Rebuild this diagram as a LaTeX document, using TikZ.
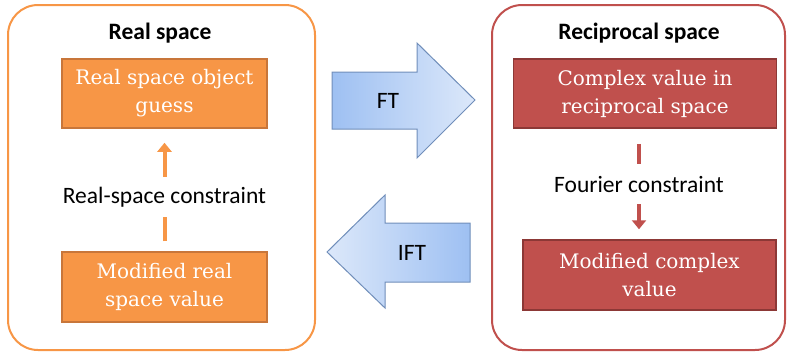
\documentclass[tikz,border=0pt]{standalone}
\usepackage{fontspec}
\setsansfont{Carlito}
\newfontfamily\boxfont{DejaVu Serif}
\usepackage{tikz}
\usetikzlibrary{positioning}
\usetikzlibrary{arrows.meta}
\definecolor{myorange}{RGB}{247,150,70}
\definecolor{myorangeline}{RGB}{200,118,58}
\definecolor{myred}{RGB}{192,80,77}
\definecolor{myredline}{RGB}{140,56,54}
\definecolor{myblue}{RGB}{158,192,242}
\definecolor{mylightblue}{RGB}{220,232,250}
\definecolor{myblueline}{RGB}{112,142,186}

\begin{document}
\begin{tikzpicture}[x=1pt,y=-1pt, font=\sffamily\fontsize{23.5}{28}\selectfont]
	\useasboundingbox (0,0) rectangle (787,354);

	% the two spaces
	\draw[myorange, line width=2pt, rounded corners=30pt] (8,5) rectangle (315,350);
	\draw[myred, line width=2pt, rounded corners=30pt] (492,5) rectangle (785,350);
	\node (rtitle) at (160,33) {\bfseries Real space};
	\node (ktitle) at (639,33) {\bfseries Reciprocal space};

	\begin{scope}[every node/.style={rectangle, draw, line width=1.5pt, text=white, align=center,
	              inner sep=0pt, font=\boxfont\fontsize{20}{28}\selectfont}]
	    \node (guess) [fill=myorange, draw=myorangeline, minimum width=205pt, minimum height=69pt]
	        at (164.5,93.5) {Real space object\\guess};
	    \node (modreal) [fill=myorange, draw=myorangeline, minimum width=205pt, minimum height=70pt]
	        at (164.5,287) {Modified real\\space value};
	    \node (cplx) [fill=myred, draw=myredline, minimum width=263pt, minimum height=69pt]
	        at (645,93.5) {Complex value in\\reciprocal space};
	    \node (modcplx) [fill=myred, draw=myredline, minimum width=253pt, minimum height=70pt]
	        at (649.5,275) {Modified complex\\value};
	\end{scope}

	% transforms between the spaces
	\shade[left color=myblue, right color=mylightblue, draw=myblueline, line width=1pt]
	    (332,72) -- (417,72) -- (417,43) -- (475,100) -- (417,158) -- (417,129) -- (332,129) -- cycle;
	\shade[left color=mylightblue, right color=myblue, draw=myblueline, line width=1pt]
	    (470,223) -- (385,223) -- (385,195) -- (327,252) -- (385,308) -- (385,282) -- (470,282) -- cycle;
	\node (ft) at (388,101) {FT};
	\node (ift) at (412,253) {IFT};

	% constraints
	\begin{scope}[>={Triangle[length=9pt,width=14pt]},
	              every edge/.style={draw, line width=4pt}]
	    \path [->] (modreal.north) edge[myorange, shorten <=10pt, shorten >=14pt]
	        node[pos=0.44, fill=white, text=black, minimum height=40pt, inner sep=0pt] {Real-space constraint} (guess.south);
	    \path [->] (cplx.south -| ktitle) edge[myred, shorten <=15pt, shorten >=10pt]
	        node[fill=white, text=black, minimum height=40pt, inner sep=0pt] {Fourier constraint} (modcplx.north -| ktitle);
	\end{scope}
\end{tikzpicture}
\end{document}
